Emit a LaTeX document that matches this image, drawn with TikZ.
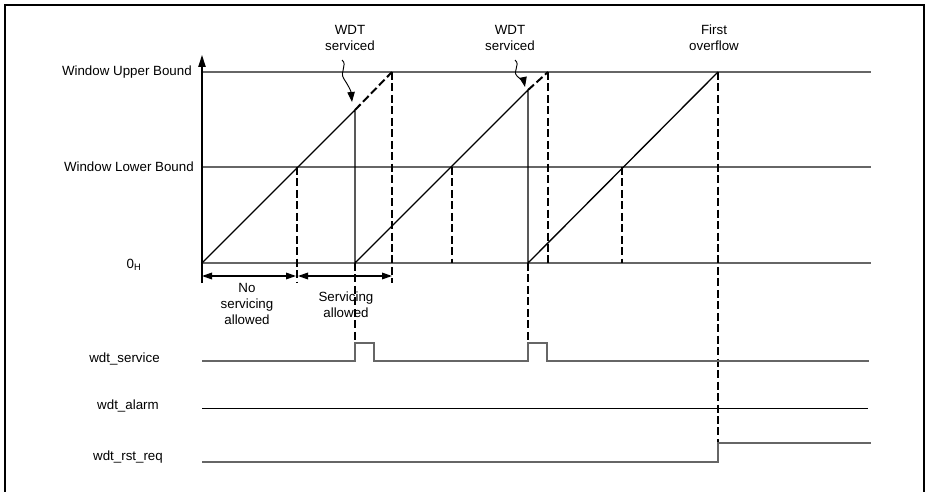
\documentclass[tikz,border=0pt]{standalone}
\usepackage{fontspec}
\setmainfont{Liberation Sans}
\usetikzlibrary{arrows.meta}
\begin{document}
\begin{tikzpicture}[x=0.75pt,y=-0.75pt,
  every node/.style={font=\fontsize{10}{11.7}\selectfont, inner sep=0pt},
  frame/.style={line width=1.6pt},
  gridline/.style={draw=black!60, line width=0.9pt},
  ramp/.style={line width=1pt},
  dsh/.style={line width=1.5pt, dash pattern=on 6pt off 2.6pt},
  sig/.style={draw=black!60, line width=0.9pt},
  axisarrow/.style={line width=0.9pt, -{Triangle[length=9pt,width=5.5pt]}},
  dimarrow/.style={line width=0.9pt, {Triangle[length=7.5pt,width=5pt]}-{Triangle[length=7.5pt,width=5pt]}},
  callout/.style={line width=0.7pt, -{Triangle[length=7.5pt,width=5.5pt]}}
]
\useasboundingbox (0,0) rectangle (926,492);
\draw[frame] (5,492) -- (5,5) -- (924,5) -- (924,492);

% coordinates
\coordinate (O) at (202,263);
\coordinate (axtop) at (202,55);
\coordinate (axbot) at (202,283);
\coordinate (s1top) at (355,110);
\coordinate (s1bot) at (355,263);
\coordinate (u1) at (392,72);
\coordinate (s2top) at (528,90);
\coordinate (s2bot) at (528,263);
\coordinate (u2) at (548,72);
\coordinate (u3) at (718,72);

% labels
\node[anchor=east] (ub) at (192,72) {Window Upper Bound};
\node[anchor=east] (lb) at (194,167) {Window Lower Bound};
\node (zh) at (134,265) {0\textsubscript{H}};
\node (ws) at (124.5,359) {wdt\_service};
\node (wa) at (128,406) {wdt\_alarm};
\node (wr) at (128,457) {wdt\_rst\_req};
\node[align=center] (wdt1) at (350,38) {WDT\\serviced};
\node[align=center] (wdt2) at (510,38) {WDT\\serviced};
\node[align=center] (fo) at (714,38) {First\\overflow};
\node[align=center] (nsa) at (247,304) {No\\servicing\\allowed};
\node[align=center] (sa) at (346,305) {Servicing\\allowed};

% grid lines
\draw[gridline] (202,72) -- (871,72);
\draw[gridline] (202,167) -- (871,167);
\draw[gridline] (O) -- (871,263);

% axis
\draw[axisarrow] (axbot) -- (axtop);

% ramps
\draw[ramp] (O) -- (s1top) -- (s1bot) -- (s2top) -- (s2bot) -- (u3);
\draw[dsh] (s1top) -- (u1);
\draw[dsh] (s2top) -- (u2);

% dashed verticals
\draw[dsh] (297,167) -- (297,283);
\draw[dsh] (u1) -- (392,283);
\draw[dsh] (452,167) -- (452,263);
\draw[dsh] (u2) -- (548,263);
\draw[dsh] (622,167) -- (622,263);
\draw[dsh] (u3) -- (718,462);
\draw[dsh] (s1bot) -- (355,343);
\draw[dsh] (s2bot) -- (528,343);

% dimension arrows
\draw[dimarrow] (202,276) -- (296,276);
\draw[dimarrow] (298,276) -- (392,276);

% callouts
\draw[callout] (342,60) .. controls (348,65) and (339,72) .. (344,79) .. controls (348,85) and (351,91) .. (352,102);
\draw[callout] (515,60) .. controls (521,65) and (512,71) .. (517,76) .. controls (521,80) and (524,82) .. (525,87);

% signals
\draw[sig] (202,361) -- (355,361) -- (355,343) -- (374,343) -- (374,361) -- (528,361) -- (528,343) -- (547,343) -- (547,361) -- (869,361);
\draw[line width=0.7pt] (202,408) -- (868,408);
\draw[sig] (202,462) -- (718,462) -- (718,443) -- (871,443);
\end{tikzpicture}
\end{document}
